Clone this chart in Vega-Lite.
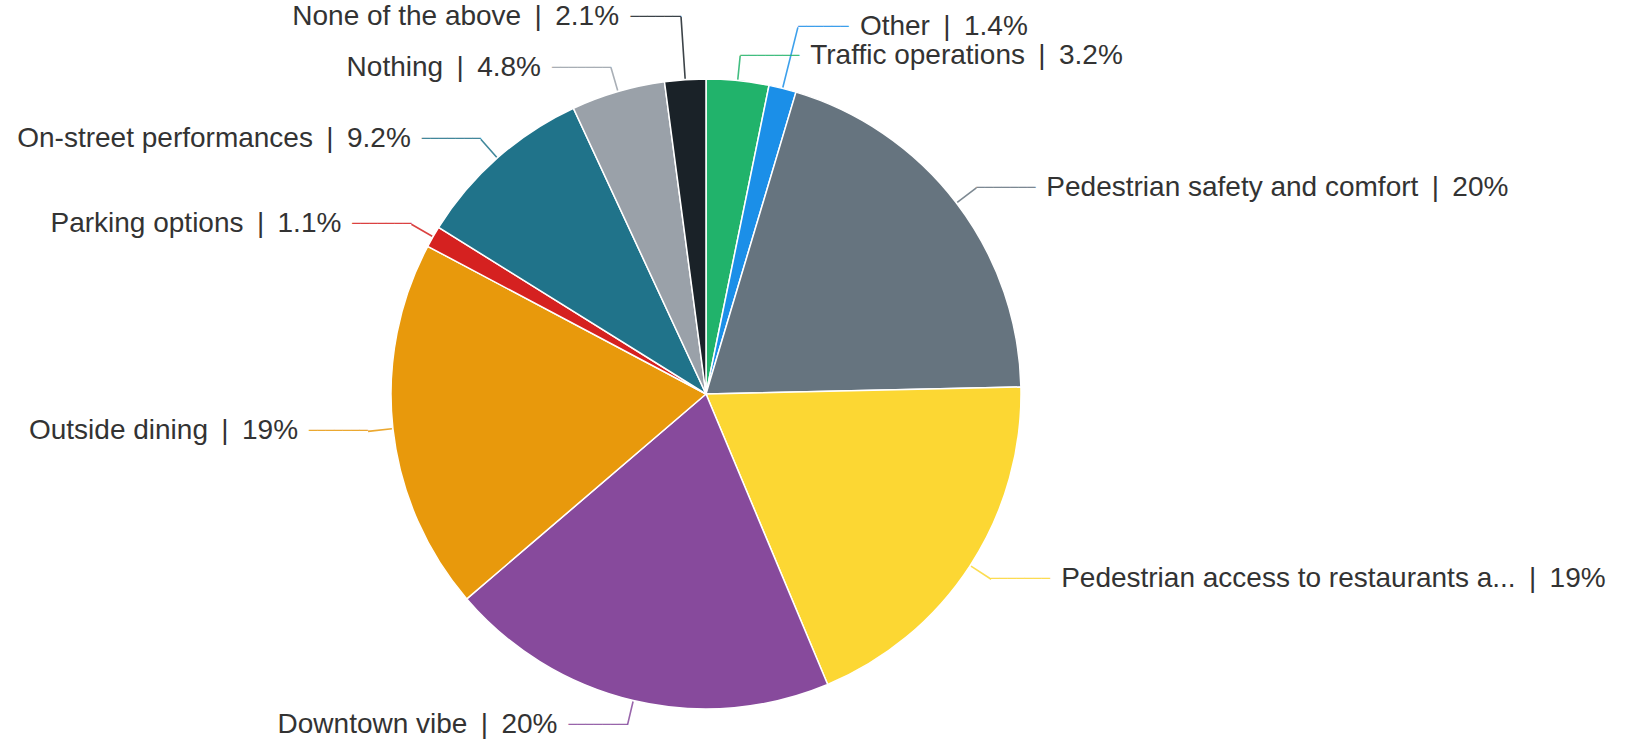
{
  "$schema": "https://vega.github.io/schema/vega-lite/v6.json",
  "width": 1412,
  "height": 712,
  "padding": {"left": 0, "top": 38, "right": 215, "bottom": 0},
  "autosize": {"type": "none"},
  "background": "#ffffff",
  "config": {"view": {"stroke": null}},
  "data": {
    "values": [
      {"name": "Traffic operations", "value": 3.2},
      {"name": "Other", "value": 1.4},
      {"name": "Pedestrian safety and comfort", "value": 20},
      {"name": "Pedestrian access to restaurants a...", "value": 19},
      {"name": "Downtown vibe", "value": 20},
      {"name": "Outside dining", "value": 19},
      {"name": "Parking options", "value": 1.1},
      {"name": "On-street performances", "value": 9.2},
      {"name": "Nothing", "value": 4.8},
      {"name": "None of the above", "value": 2.1}
    ]
  },
  "transform": [
    {"stack": "value", "groupby": [], "as": ["v0", "v1"], "offset": "normalize"},
    {"calculate": "(datum.v0 + datum.v1) / 2", "as": "mid"},
    {"calculate": "datum.name + ' \u2009|\u2009 ' + datum.value + '%'", "as": "label"},
    {"calculate": "datum.name === 'Other' || datum.name === 'None of the above'", "as": "crowd"}
  ],
  "layer": [
    {
      "mark": {"type": "arc", "outerRadius": 315, "stroke": "#ffffff", "strokeWidth": 1.5},
      "encoding": {
        "theta": {"field": "v0", "type": "quantitative", "scale": {"domain": [0, 1]}},
        "theta2": {"field": "v1"},
        "color": {
          "field": "name", "type": "nominal", "legend": null,
          "scale": {
            "domain": ["Traffic operations", "Other", "Pedestrian safety and comfort", "Pedestrian access to restaurants a...", "Downtown vibe", "Outside dining", "Parking options", "On-street performances", "Nothing", "None of the above"],
            "range": ["#21b36b", "#1b8fe8", "#66747f", "#fcd733", "#874a9c", "#e8990c", "#d52120", "#20738a", "#9aa1a9", "#1a2228"]
          }
        }
      }
    },
    {
      "transform": [{"filter": "!datum.crowd"}],
      "mark": {"type": "arc", "outerRadius": 340, "innerRadius": 316, "filled": false, "strokeWidth": 1.6, "opacity": 0.85},
      "encoding": {
        "theta": {"field": "mid", "type": "quantitative", "scale": {"domain": [0, 1]}},
        "theta2": {"field": "mid"},
        "color": {"field": "name", "type": "nominal", "legend": null}
      }
    },
    {
      "transform": [{"filter": "datum.crowd"}],
      "mark": {"type": "arc", "outerRadius": 378, "innerRadius": 316, "filled": false, "strokeWidth": 1.6, "opacity": 0.85},
      "encoding": {
        "theta": {"field": "mid", "type": "quantitative", "scale": {"domain": [0, 1]}},
        "theta2": {"field": "mid"},
        "color": {"field": "name", "type": "nominal", "legend": null}
      }
    },
    {
      "transform": [{"filter": "!datum.crowd && datum.mid < 0.5"}],
      "mark": {"type": "text", "radius": 340, "align": "left", "baseline": "middle", "font": "DejaVu Sans", "fontSize": 14, "text": "───────", "opacity": 0.85},
      "encoding": {
        "theta": {"field": "mid", "type": "quantitative", "scale": {"domain": [0, 1]}},
        "color": {"field": "name", "type": "nominal", "legend": null}
      }
    },
    {
      "transform": [{"filter": "!datum.crowd && datum.mid >= 0.5"}],
      "mark": {"type": "text", "radius": 340, "align": "right", "baseline": "middle", "font": "DejaVu Sans", "fontSize": 14, "text": "───────", "opacity": 0.85},
      "encoding": {
        "theta": {"field": "mid", "type": "quantitative", "scale": {"domain": [0, 1]}},
        "color": {"field": "name", "type": "nominal", "legend": null}
      }
    },
    {
      "transform": [{"filter": "datum.crowd && datum.mid < 0.5"}],
      "mark": {"type": "text", "radius": 378, "align": "left", "baseline": "middle", "font": "DejaVu Sans", "fontSize": 14, "text": "──────", "opacity": 0.85},
      "encoding": {
        "theta": {"field": "mid", "type": "quantitative", "scale": {"domain": [0, 1]}},
        "color": {"field": "name", "type": "nominal", "legend": null}
      }
    },
    {
      "transform": [{"filter": "datum.crowd && datum.mid >= 0.5"}],
      "mark": {"type": "text", "radius": 378, "align": "right", "baseline": "middle", "font": "DejaVu Sans", "fontSize": 14, "text": "──────", "opacity": 0.85},
      "encoding": {
        "theta": {"field": "mid", "type": "quantitative", "scale": {"domain": [0, 1]}},
        "color": {"field": "name", "type": "nominal", "legend": null}
      }
    },
    {
      "transform": [{"filter": "!datum.crowd && datum.mid < 0.5"}],
      "mark": {"type": "text", "radius": 340, "dx": 70, "align": "left", "baseline": "middle", "font": "Liberation Sans", "fontSize": 28, "color": "#333333"},
      "encoding": {
        "theta": {"field": "mid", "type": "quantitative", "scale": {"domain": [0, 1]}},
        "text": {"field": "label"}
      }
    },
    {
      "transform": [{"filter": "!datum.crowd && datum.mid >= 0.5"}],
      "mark": {"type": "text", "radius": 340, "dx": -70, "align": "right", "baseline": "middle", "font": "Liberation Sans", "fontSize": 28, "color": "#333333"},
      "encoding": {
        "theta": {"field": "mid", "type": "quantitative", "scale": {"domain": [0, 1]}},
        "text": {"field": "label"}
      }
    },
    {
      "transform": [{"filter": "datum.crowd && datum.mid < 0.5"}],
      "mark": {"type": "text", "radius": 378, "dx": 62, "align": "left", "baseline": "middle", "font": "Liberation Sans", "fontSize": 28, "color": "#333333"},
      "encoding": {
        "theta": {"field": "mid", "type": "quantitative", "scale": {"domain": [0, 1]}},
        "text": {"field": "label"}
      }
    },
    {
      "transform": [{"filter": "datum.crowd && datum.mid >= 0.5"}],
      "mark": {"type": "text", "radius": 378, "dx": -62, "align": "right", "baseline": "middle", "font": "Liberation Sans", "fontSize": 28, "color": "#333333"},
      "encoding": {
        "theta": {"field": "mid", "type": "quantitative", "scale": {"domain": [0, 1]}},
        "text": {"field": "label"}
      }
    }
  ]
}
